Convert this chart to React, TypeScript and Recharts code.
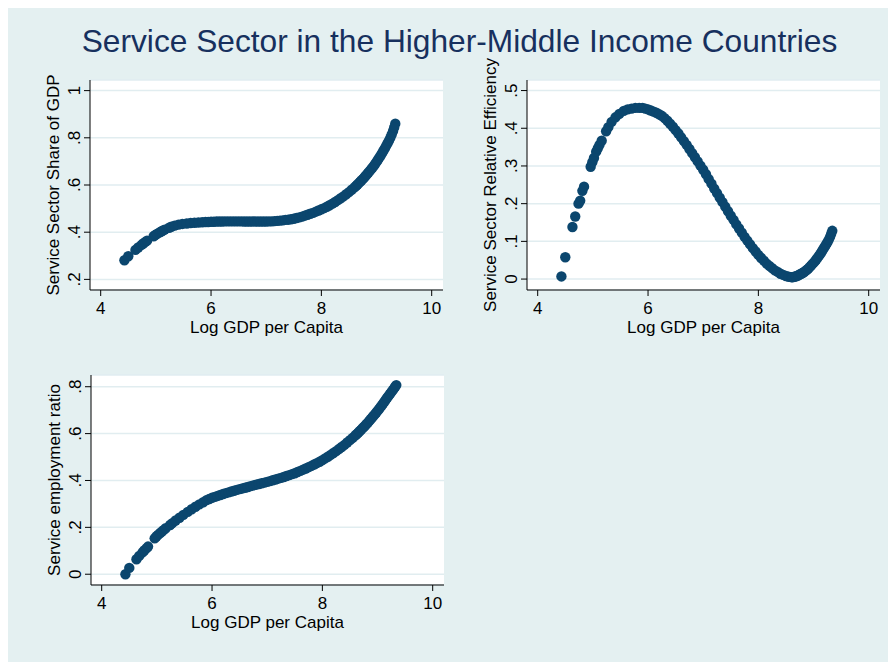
import { ScatterChart, Scatter, XAxis, YAxis, CartesianGrid, Label } from 'recharts';

// log GDP per capita, shared by all three panels
// (last row: extra observations on the steep upper tail)
const logGdp = [
  4.43, 4.5, 4.63, 4.68, 4.74, 4.77, 4.81, 4.84, 4.96, 4.99,
  5.02, 5.06, 5.09, 5.12, 5.16, 5.24, 5.28, 5.34, 5.41, 5.48,
  5.56, 5.63, 5.7, 5.77, 5.84,
  5.9, 5.95, 6.0, 6.05, 6.1, 6.15, 6.2, 6.25, 6.3, 6.35,
  6.4, 6.45, 6.5, 6.55, 6.6, 6.65, 6.7, 6.75, 6.8, 6.85,
  6.9, 6.95, 7.0, 7.05, 7.1, 7.15, 7.2, 7.25, 7.3, 7.35,
  7.4, 7.45, 7.5, 7.55, 7.6, 7.65, 7.7, 7.75, 7.8, 7.85,
  7.9, 7.95, 8.0, 8.05, 8.1, 8.15, 8.2, 8.25, 8.3, 8.35,
  8.4, 8.45, 8.5, 8.55, 8.6, 8.65, 8.7, 8.75, 8.8, 8.85,
  8.9, 8.95, 9.0, 9.05, 9.1, 9.15, 9.2, 9.25, 9.3, 9.34,
  8.625, 8.675, 8.725, 8.775, 8.825, 8.875, 8.925, 8.975, 9.025, 9.075,
  9.125, 9.175, 9.225, 9.275, 9.32,
];

const shareOfGdp = [
  0.281, 0.298, 0.325, 0.335, 0.346, 0.352, 0.359, 0.364, 0.383, 0.388,
  0.393, 0.398, 0.402, 0.406, 0.411, 0.419, 0.423, 0.428, 0.432, 0.435,
  0.437, 0.439, 0.44, 0.441, 0.442,
  0.443, 0.443, 0.444, 0.444, 0.445, 0.445, 0.445, 0.446, 0.446, 0.446,
  0.446, 0.446, 0.446, 0.446, 0.445, 0.445, 0.445, 0.445, 0.445, 0.445,
  0.445, 0.445, 0.445, 0.446, 0.446, 0.447, 0.448, 0.449, 0.45, 0.452,
  0.453, 0.455, 0.457, 0.46, 0.463, 0.466, 0.47, 0.474, 0.478, 0.482,
  0.487, 0.492, 0.497, 0.502, 0.508, 0.514, 0.521, 0.528, 0.536, 0.544,
  0.552, 0.561, 0.57, 0.58, 0.59, 0.601, 0.613, 0.625, 0.638, 0.652,
  0.666, 0.681, 0.698, 0.716, 0.735, 0.755, 0.777, 0.8, 0.829, 0.86,
  0.595, 0.607, 0.619, 0.631, 0.645, 0.659, 0.673, 0.689, 0.707, 0.725,
  0.745, 0.766, 0.788, 0.814, 0.844,
];

const relativeEfficiency = [
  0.007, 0.058, 0.138, 0.166, 0.2, 0.208, 0.234, 0.245, 0.298, 0.31,
  0.321, 0.338, 0.347, 0.356, 0.367, 0.392, 0.403, 0.417, 0.429, 0.438,
  0.446, 0.45, 0.452, 0.454, 0.454,
  0.454, 0.452, 0.45, 0.447, 0.444, 0.441, 0.437, 0.433, 0.427, 0.42,
  0.412, 0.404, 0.395, 0.386, 0.376, 0.366, 0.356, 0.345, 0.334, 0.323,
  0.312, 0.301, 0.29, 0.278, 0.265, 0.253, 0.24, 0.228, 0.216, 0.204,
  0.192, 0.18, 0.168, 0.157, 0.145, 0.134, 0.123, 0.112, 0.102, 0.092,
  0.082, 0.073, 0.064, 0.056, 0.049, 0.041, 0.035, 0.029, 0.023, 0.019,
  0.014, 0.011, 0.008, 0.006, 0.005, 0.006, 0.008, 0.012, 0.016, 0.021,
  0.027, 0.035, 0.043, 0.052, 0.062, 0.073, 0.085, 0.097, 0.112, 0.128,
  0.005, 0.007, 0.01, 0.014, 0.018, 0.024, 0.031, 0.039, 0.047, 0.057,
  0.067, 0.079, 0.091, 0.104, 0.12,
];

const employmentRatio = [
  0.0, 0.027, 0.064, 0.078, 0.093, 0.101, 0.11, 0.118, 0.153, 0.161,
  0.168, 0.176, 0.182, 0.188, 0.196, 0.21, 0.218, 0.229, 0.241, 0.253,
  0.266, 0.277, 0.288, 0.298, 0.307,
  0.316, 0.321, 0.326, 0.33, 0.334, 0.338, 0.342, 0.346, 0.349, 0.353,
  0.356, 0.36, 0.363, 0.366, 0.369, 0.372, 0.376, 0.379, 0.382, 0.385,
  0.388, 0.391, 0.394, 0.397, 0.401, 0.404, 0.408, 0.411, 0.415, 0.419,
  0.423, 0.427, 0.431, 0.436, 0.441, 0.446, 0.451, 0.457, 0.462, 0.468,
  0.474, 0.48, 0.487, 0.494, 0.501, 0.509, 0.517, 0.525, 0.534, 0.543,
  0.552, 0.562, 0.572, 0.582, 0.593, 0.604, 0.616, 0.628, 0.641, 0.654,
  0.668, 0.682, 0.697, 0.712, 0.728, 0.745, 0.761, 0.777, 0.793, 0.807,
  0.598, 0.61, 0.622, 0.634, 0.647, 0.661, 0.675, 0.689, 0.704, 0.72,
  0.736, 0.753, 0.769, 0.785, 0.8,
];

const xTicks = [4, 6, 8, 10];
const shareTicks = [0.2, 0.4, 0.6, 0.8, 1];
const efficiencyTicks = [0, 0.1, 0.2, 0.3, 0.4, 0.5];
const employmentTicks = [0, 0.2, 0.4, 0.6, 0.8];

const NAVY = '#0b466e';
const FONT = '"Liberation Sans", Arial, Helvetica, sans-serif';

// Stata-style labels: ".2" instead of "0.2"
const stataNum = (v: number) => String(v).replace(/^0\./, '.');

const toPoints = (ys: number[]) => logGdp.map((x, i) => ({ x, y: ys[i] }));

const XTick = (props: any) => {
  const { x, y, payload } = props;
  return (
    <text x={x} y={y + 18.3} textAnchor='middle' fontSize={17} fontFamily={FONT} fill='#000'>
      {payload.value}
    </text>
  );
};

const YTick = (props: any) => {
  const { x, y, payload } = props;
  return (
    <text
      x={x}
      y={y}
      transform={`rotate(-90 ${x} ${y})`}
      textAnchor='middle'
      fontSize={17}
      fontFamily={FONT}
      fill='#000'
    >
      {stataNum(payload.value)}
    </text>
  );
};

const Marker = (props: any) => <circle cx={props.cx} cy={props.cy} r={5.2} fill={NAVY} />;

type PanelProps = {
  left: number;
  top: number;
  values: number[];
  yDomain: [number, number];
  yTicks: number[];
  yTitle: string;
};

// top margin leaves room for long rotated axis titles
const Panel = ({ left, top, values, yDomain, yTicks, yTitle }: PanelProps) => {
  return (
    <div style={{ position: 'absolute', left, top }}>
      <ScatterChart width={445} height={310} margin={{ top: 40, right: 10, bottom: 0, left: 0 }}>
        <CartesianGrid vertical={false} stroke='#e1edf0' strokeWidth={1.5} fill='#ffffff' fillOpacity={1} />
        <XAxis
          type='number'
          dataKey='x'
          domain={[3.806, 10.205]}
          ticks={xTicks}
          allowDataOverflow
          height={60}
          stroke='#000'
          tickSize={6}
          tickMargin={0}
          tick={<XTick />}
        >
          <Label
            content={(p: any) => {
              const vb = p.viewBox;
              return (
                <text
                  x={vb.x + vb.width / 2}
                  y={vb.y + 42.7}
                  textAnchor='middle'
                  fontSize={17}
                  fontFamily={FONT}
                  fill='#000'
                >
                  Log GDP per Capita
                </text>
              );
            }}
          />
        </XAxis>
        <YAxis
          type='number'
          dataKey='y'
          domain={yDomain}
          ticks={yTicks}
          allowDataOverflow
          width={82}
          stroke='#000'
          tickSize={6}
          tickMargin={4}
          tick={<YTick />}
        >
          <Label
            content={(p: any) => {
              const vb = p.viewBox;
              const cx = vb.x + vb.width - 31.5;
              const cy = vb.y + vb.height / 2;
              return (
                <text
                  x={cx}
                  y={cy}
                  transform={`rotate(-90 ${cx} ${cy})`}
                  textAnchor='middle'
                  fontSize={17}
                  fontFamily={FONT}
                  fill='#000'
                >
                  {yTitle}
                </text>
              );
            }}
          />
        </YAxis>
        <Scatter data={toPoints(values)} shape={Marker} isAnimationActive={false} />
      </ScatterChart>
    </div>
  );
};

const App = () => {
  return (
    <div style={{ position: 'relative', width: 888, height: 654, background: '#e4f0f1', fontFamily: FONT }}>
      <svg width={888} height={60} style={{ position: 'absolute', left: 0, top: 0 }}>
        <text x={451.5} y={43.5} textAnchor='middle' fontSize={31.7} fontFamily={FONT} fill='#17305e'>
          Service Sector in the Higher-Middle Income Countries
        </text>
      </svg>
      <Panel
        left={0}
        top={32}
        values={shareOfGdp}
        yDomain={[0.155, 1.045]}
        yTicks={shareTicks}
        yTitle='Service Sector Share of GDP'
      />
      <Panel
        left={437}
        top={32}
        values={relativeEfficiency}
        yDomain={[-0.029, 0.528]}
        yTicks={efficiencyTicks}
        yTitle='Service Sector Relative Efficiency'
      />
      <Panel
        left={1}
        top={327}
        values={employmentRatio}
        yDomain={[-0.046, 0.85]}
        yTicks={employmentTicks}
        yTitle='Service employment ratio'
      />
    </div>
  );
};

export default App;
